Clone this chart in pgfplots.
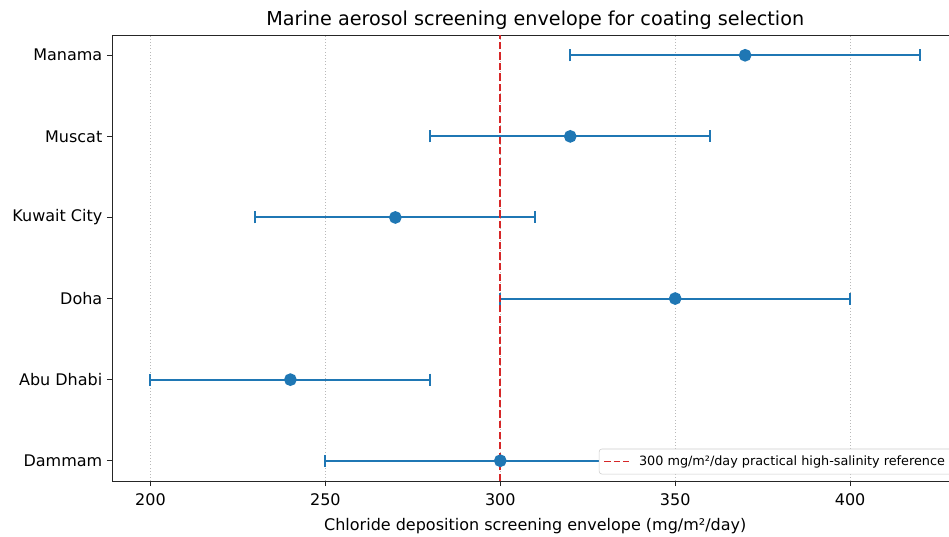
\documentclass[border=0pt]{standalone}
\usepackage{pgfplots}
\pgfplotsset{compat=1.18}
\usepackage{fontspec}
\setmainfont{DejaVu Sans}
\definecolor{mblue}{HTML}{1F77B4}
\definecolor{mred}{HTML}{D62728}
\begin{document}
\begin{tikzpicture}
\begin{axis}[
  at={(0,0)}, anchor=south west,
  scale only axis,
  width=634.9pt, height=334.5pt,
  xmin=189, xmax=431,
  ymin=-0.25, ymax=5.25,
  xtick={200,250,300,350,400},
  ytick={0,1,2,3,4,5},
  yticklabels={Dammam,Abu Dhabi,Doha,Kuwait City,Muscat,Manama},
  tick pos=left,
  tick align=outside,
  major tick length=3.75pt,
  tick style={line width=0.7pt, black!85},
  axis line style={line width=0.7pt, black!85},
  xmajorgrids,
  major x grid style={gray!55, dotted, line width=0.6pt},
  /pgf/number format/assume math mode=true,
  /pgf/number format/1000 sep={},
  ticklabel style={font=\fontsize{12}{14}\selectfont},
  xticklabel style={yshift=-2.5pt},
  title={Marine aerosol screening envelope for coating selection},
  title style={font=\fontsize{14.4}{17}\selectfont, yshift=-5.5pt},
  xlabel={Chloride deposition screening envelope (mg/m²/day)},
  xlabel style={font=\fontsize{12}{14}\selectfont, yshift=-2.5pt},
  legend cell align=left,
  legend style={at={(1,0)}, anchor=south east, xshift=-5pt, yshift=5pt,
    font=\fontsize{9.6}{11}\selectfont, fill=white,
    draw=black!20, rounded corners=2pt, inner xsep=3pt, inner ysep=3pt,
    /tikz/column sep=4.5pt},
]
\addplot[forget plot, mblue, line width=1.5pt, mark=*, mark size=4pt, only marks,
  error bars/.cd, x dir=both, x explicit,
  error bar style={line width=1.5pt, mblue},
  error mark options={rotate=90, mark size=4.5pt, line width=1.5pt, mblue}]
  coordinates {
  (300,0) +- (50,0)
  (240,1) +- (40,0)
  (350,2) +- (50,0)
  (270,3) +- (40,0)
  (320,4) +- (40,0)
  (370,5) +- (50,0)
  };
\addplot[mred, line width=1.4pt, dash pattern=on 5.5pt off 2.4pt,
  legend image code/.code={\draw[mred, line width=1.4pt, dash pattern=on 5pt off 2.2pt] (0pt,0pt) -- (19pt,0pt);}]
  coordinates {(300,-0.25) (300,5.25)};
\addlegendentry{300 mg/m²/day practical high-salinity reference}
\end{axis}
\pgfresetboundingbox
\useasboundingbox (-84pt,-41.25pt) rectangle (627.75pt,360.75pt);
\end{tikzpicture}
\end{document}
